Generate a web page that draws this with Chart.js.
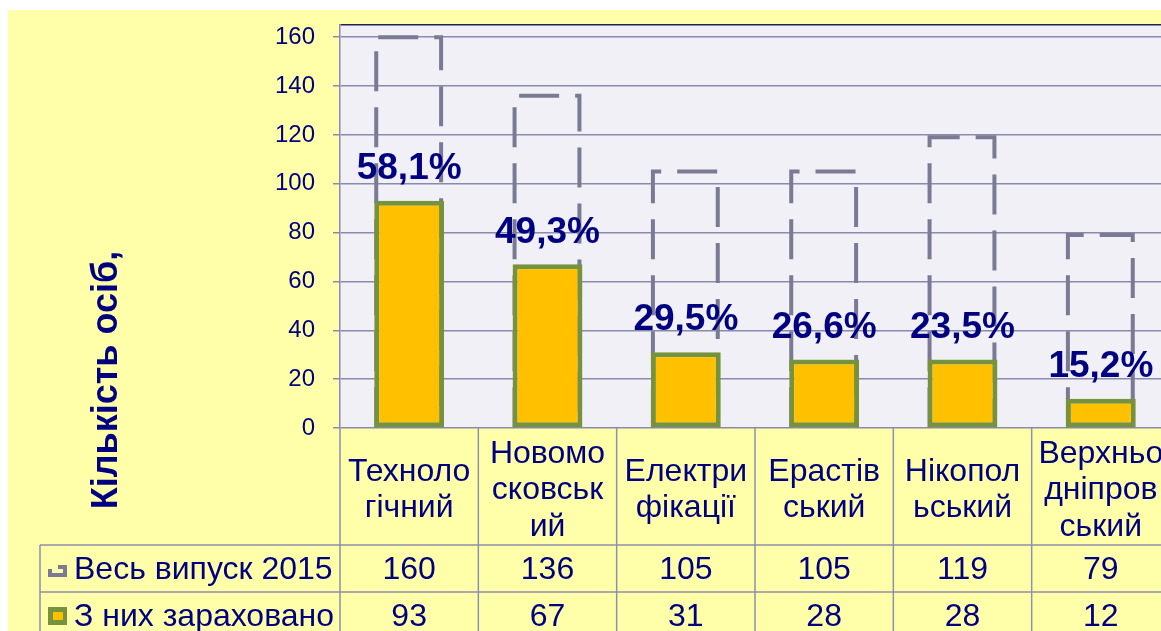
<!DOCTYPE html>
<html>
<head>
<meta charset="utf-8">
<script src="https://cdn.jsdelivr.net/npm/chart.js@4"></script>
<style>
    html, body { margin: 0; padding: 0; background: #fff; overflow: hidden; }
    #wrap { position: absolute; left: 0; top: 0; width: 1180px; height: 631px; }
</style>
</head>
<body>
<div id="wrap"><canvas id="graduatesChart"></canvas></div>
<script>
// Chart data
const categories = [
    ['Техноло', 'гічний'],
    ['Новомо', 'сковськ', 'ий'],
    ['Електри', 'фікації'],
    ['Ерастів', 'ський'],
    ['Нікопол', 'ьський'],
    ['Верхньо', 'дніпров', 'ський']
];
const totalGraduates = [160, 136, 105, 105, 119, 79];
const enrolled = [93, 67, 31, 28, 28, 12];
const percentLabels = ['58,1%', '49,3%', '29,5%', '26,6%', '23,5%', '15,2%'];
const seriesNames = ['Весь випуск 2015', 'З них зараховано'];
const yTicks = [0, 20, 40, 60, 80, 100, 120, 140, 160];
const axisTitle = 'Кількість осіб,';

const navy = '#000080';
const font = '"Liberation Sans", Arial, sans-serif';

// background + plot area
const backgroundPlugin = {
    id: 'backgroundPlugin',
    beforeDraw(chart) {
        const ctx = chart.ctx;
        const a = chart.chartArea;
        ctx.save();
        ctx.fillStyle = '#ffffff';
        ctx.fillRect(0, 0, chart.width, chart.height);
        ctx.fillStyle = '#ffffaa';
        ctx.fillRect(8, 10, chart.width - 8, chart.height - 10);
        ctx.fillStyle = '#f0f0f6';
        ctx.fillRect(a.left, a.top, a.right - a.left, a.bottom - a.top);
        ctx.restore();
    }
};

// dashed outline for the total bars
const dashedBarsPlugin = {
    id: 'dashedBars',
    afterDatasetDraw(chart, args) {
        if (args.index !== 0) return;
        const ctx = chart.ctx;
        ctx.save();
        ctx.strokeStyle = '#7a7a94';
        ctx.lineWidth = 4;
        ctx.setLineDash([40, 16]);
        ctx.lineCap = 'butt';
        args.meta.data.forEach(bar => {
            const left = bar.x - bar.width / 2 + 2;
            const right = bar.x + bar.width / 2 - 3;
            ctx.beginPath();
            ctx.moveTo(left, bar.base);
            ctx.lineTo(left, bar.y);
            ctx.lineTo(right, bar.y);
            ctx.lineTo(right, bar.base);
            ctx.stroke();
        });
        ctx.restore();
    }
};

// percentages, axis title and the data table
const tablePlugin = {
    id: 'tablePlugin',
    afterDraw(chart) {
        const ctx = chart.ctx;
        const x = chart.scales.x;
        const a = chart.chartArea;
        const half = (x.getPixelForValue(1) - x.getPixelForValue(0)) / 2;
        const rowTops = [545, 592, 639];

        ctx.save();

        // percent labels above the enrolled bars
        const meta = chart.getDatasetMeta(1);
        ctx.fillStyle = navy;
        ctx.font = 'bold 37px ' + font;
        ctx.textAlign = 'center';
        ctx.textBaseline = 'middle';
        meta.data.forEach((bar, i) => {
            ctx.fillText(percentLabels[i], bar.x, bar.y - 32);
        });

        // table grid
        ctx.strokeStyle = '#8f8fb0';
        ctx.lineWidth = 1.5;
        ctx.beginPath();
        for (let i = 0; i <= categories.length; i++) {
            const px = x.getPixelForValue(0) - half + i * 2 * half;
            ctx.moveTo(px, a.bottom);
            ctx.lineTo(px, chart.height + 10);
        }
        rowTops.forEach(y => {
            ctx.moveTo(40, y);
            ctx.lineTo(chart.width, y);
        });
        ctx.moveTo(40, rowTops[0]);
        ctx.lineTo(40, chart.height + 10);
        ctx.stroke();

        // category labels
        ctx.fillStyle = navy;
        ctx.font = '32px ' + font;
        ctx.textBaseline = 'alphabetic';
        categories.forEach((lines, i) => {
            const cx = x.getPixelForValue(i);
            const first = 499 - (lines.length - 1) * 36.5 / 2;
            lines.forEach((t, j) => ctx.fillText(t, cx, first + j * 36.5));
        });

        // values
        [totalGraduates, enrolled].forEach((row, r) => {
            row.forEach((v, i) => {
                ctx.fillText(String(v), x.getPixelForValue(i), rowTops[r] + 34);
            });
        });

        // series names + keys
        ctx.textAlign = 'left';
        seriesNames.forEach((name, r) => {
            ctx.fillText(name, 74, rowTops[r] + 34);
        });
        ctx.strokeStyle = '#7a7a94';
        ctx.lineWidth = 4;
        ctx.beginPath();
        ctx.moveTo(50, rowTops[0] + 24);
        ctx.lineTo(50, rowTops[0] + 30);
        ctx.lineTo(65, rowTops[0] + 30);
        ctx.lineTo(65, rowTops[0] + 22);
        ctx.lineTo(58, rowTops[0] + 22);
        ctx.stroke();
        ctx.fillStyle = '#76923c';
        ctx.fillRect(48, rowTops[1] + 15, 19, 18);
        ctx.fillStyle = '#ffc000';
        ctx.fillRect(53, rowTops[1] + 20, 10, 8);

        // y axis title
        ctx.translate(117, 380);
        ctx.rotate(-Math.PI / 2);
        ctx.fillStyle = navy;
        ctx.font = 'bold 36px ' + font;
        ctx.textAlign = 'center';
        ctx.textBaseline = 'alphabetic';
        ctx.fillText(axisTitle, 0, 0);

        ctx.restore();
    }
};

const ctx = document.getElementById('graduatesChart').getContext('2d');

new Chart(ctx, {
    type: 'bar',
    data: {
        labels: categories.map(c => c.join('')),
        datasets: [
            {
                label: seriesNames[0],
                data: totalGraduates,
                backgroundColor: 'rgba(0,0,0,0)',
                borderWidth: 0,
                grouped: false,
                order: 2
            },
            {
                label: seriesNames[1],
                data: enrolled,
                backgroundColor: '#ffc000',
                borderColor: '#76923c',
                borderWidth: 5,
                borderSkipped: false,
                grouped: false,
                order: 1
            }
        ]
    },
    options: {
        responsive: true,
        maintainAspectRatio: false,
        animation: false,
        events: [],
        layout: { padding: { left: 0, right: 10, top: 25, bottom: 0 } },
        datasets: {
            bar: { barPercentage: 0.505, categoryPercentage: 1 }
        },
        plugins: {
            legend: { display: false },
            tooltip: { enabled: false }
        },
        scales: {
            x: {
                ticks: { display: false },
                grid: { display: false },
                border: { display: false },
                afterFit(scale) { scale.height = 631 - 428; }
            },
            y: {
                min: 0,
                max: 165,
                afterBuildTicks(scale) {
                    scale.ticks = yTicks.concat([165]).map(v => ({ value: v }));
                },
                ticks: {
                    color: navy,
                    font: { family: font, size: 24 },
                    padding: 18,
                    callback: v => (v === 165 ? '' : v)
                },
                grid: {
                    color: c => (c.tick && c.tick.value === 165 ? '#20205a' : '#8a8aae'),
                    tickColor: c => (c.tick && c.tick.value === 165 ? 'rgba(0,0,0,0)' : '#8a8aae'),
                    tickLength: 7,
                    lineWidth: 1.5
                },
                border: { color: '#8a8aae', width: 1.5 },
                afterFit(scale) {
                    scale.width = 340;
                    scale.paddingTop = 0;
                    scale.paddingBottom = 0;
                }
            }
        }
    },
    plugins: [backgroundPlugin, dashedBarsPlugin, tablePlugin]
});
</script>
</body>
</html>
